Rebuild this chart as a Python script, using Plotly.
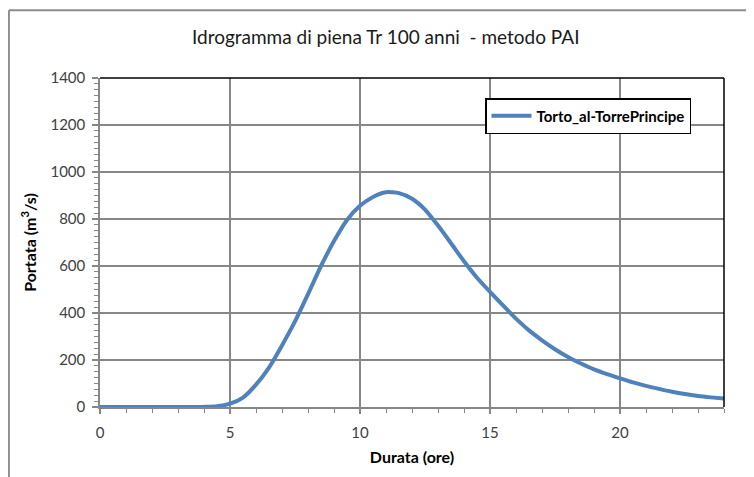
import plotly.graph_objects as go

# Data
durata_ore = [0, 0.5, 1, 1.5, 2, 2.5, 3, 3.5, 4, 4.5, 5, 5.5, 6, 6.5, 7, 7.5, 8, 8.5,
              9, 9.5, 10, 10.5, 11, 11.5, 12, 12.5, 13, 13.5, 14, 14.5, 15, 15.5,
              16, 16.5, 17, 17.5, 18, 18.5, 19, 19.5, 20, 20.5, 21, 21.5, 22, 22.5,
              23, 23.5, 24]
portata = [0, 0, 0, 0, 0, 0, 0, 0, 0.5, 3, 14, 40, 95, 168, 262, 364, 480, 600,
           706, 796, 856, 894, 914, 910, 886, 840, 772, 697, 620, 550, 490, 432,
           376, 326, 284, 246, 213, 185, 160, 140, 122, 105, 90, 77, 65, 55,
           47, 41, 36]
series_name = "Torto_al-TorrePrincipe"
title_text = "Idrogramma di piena Tr 100 anni  - metodo PAI"
x_title = "Durata (ore)"
y_title = "Portata (m<sup>3</sup>/s)"

FONT = "Lato, 'Open Sans', sans-serif"
GRID = "#878787"

fig = go.Figure()
fig.add_trace(go.Scatter(
    x=durata_ore, y=portata, mode="lines", name=series_name,
    line=dict(color="#4F81BD", width=4, shape="spline", smoothing=0.6),
))

fig.update_layout(
    width=754, height=477,
    margin=dict(l=92, r=38, t=70, b=78),
    paper_bgcolor="white", plot_bgcolor="white",
    font=dict(family=FONT, color="#404040", size=14),
    title=dict(text=title_text, x=0.501, xanchor="center", y=0.939, yanchor="middle",
               font=dict(family=FONT, size=19, color="#1a1a1a")),
    showlegend=True,
    legend=dict(x=0.617, y=0.939, xanchor="left", yanchor="top",
                bgcolor="white", bordercolor="black", borderwidth=1.5,
                font=dict(family=FONT, size=15, color="black", weight="bold"),
                itemwidth=40, tracegroupgap=0),
    xaxis=dict(
        range=[0, 24], dtick=5, tick0=0,
        showgrid=True, gridcolor=GRID, gridwidth=1.5,
        showline=True, linecolor=GRID, linewidth=1.5,
        ticks="outside", ticklen=5, tickcolor=GRID, tickwidth=1.5,
        minor=dict(dtick=1, ticks="outside", ticklen=4, tickcolor=GRID, tickwidth=1.2, showgrid=False),
        tickfont=dict(size=15, color="#404040"),
        ticklabelstandoff=6,
        title=dict(text=x_title, font=dict(size=16, color="black", weight="bold"), standoff=12),
        zeroline=False,
    ),
    yaxis=dict(
        range=[0, 1400], dtick=200, tick0=0,
        showgrid=True, gridcolor=GRID, gridwidth=1.5,
        showline=True, linecolor=GRID, linewidth=1.5,
        ticks="outside", ticklen=6, tickcolor=GRID, tickwidth=1.5,
        minor=dict(dtick=25, ticks="outside", ticklen=4, tickcolor=GRID, tickwidth=1.2, showgrid=False),
        tickfont=dict(size=15, color="#404040"),
        ticklabelstandoff=4,
        title=dict(text=y_title, font=dict(size=16, color="black", weight="bold"), standoff=10),
        zeroline=False,
    ),
    shapes=[
        # black top and right edges of the plot area
        dict(type="line", xref="paper", yref="paper", x0=0, x1=1, y0=1, y1=1,
             line=dict(color="black", width=1.5)),
        dict(type="line", xref="paper", yref="paper", x0=1, x1=1, y0=0, y1=1,
             line=dict(color="black", width=1.5)),
        # outer chart frame (top and left)
        dict(type="line", xref="paper", yref="paper", x0=-0.146, x1=1.1, y0=1.206, y1=1.206,
             line=dict(color="#8c8c8c", width=2)),
        dict(type="line", xref="paper", yref="paper", x0=-0.146, x1=-0.146, y0=-0.3, y1=1.206,
             line=dict(color="#8c8c8c", width=2)),
    ],
)

fig.write_html("out.html")
